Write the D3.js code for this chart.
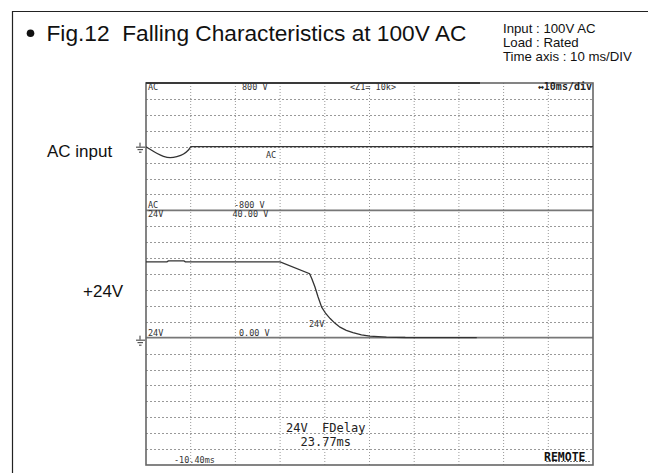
<!DOCTYPE html>
<html><head><meta charset="utf-8">
<script src="https://cdn.jsdelivr.net/npm/d3@7"></script>
<style>body{margin:0;background:#fff}svg{display:block}</style>
</head><body><svg id="c" width="648" height="473"></svg>
<script>
// ---- data ----
const timeDomain = [0, 100];            // ms across 10 divisions (10 ms/DIV)
const acRange = [-800, 800];            // V, AC channel
const v24Range = [0, 40];               // V, 24V channel
const acTime  = [0, 0.9, 2.4, 3.9, 5.4, 6.9, 8.4, 9.5, 10.1, 100];
const acVolts = [0, -33, -83, -121, -137, -125, -92, -42, 0, 0];
const v24Time  = [0, 4.7, 5.0, 8.5, 8.8, 30, 36.6, 37.1, 37.8, 38.5, 39.3, 40.2, 41.2, 42.3, 43.4, 44.8, 46.3, 48.2, 50.1, 53.8, 58, 74];
const v24Volts = [23.8, 23.8, 24.1, 24.1, 23.8, 23.8, 20.1, 18.5, 15.9, 12.8, 9.6, 7.6, 6.0, 4.5, 3.3, 2.3, 1.6, 0.9, 0.5, 0.2, 0.05, 0];
const titleText = "Fig.12  Falling Characteristics at 100V AC";
const infoLines = ["Input : 100V AC", "Load : Rated", "Time axis : 10 ms/DIV"];
const channelLabels = ["AC input", "+24V"];

// ---- layout ----
const svg = d3.select("#c");
const L = 146, R = 593, T = 83, B = 465;
const divH = (B - T) / 24;
const chTop = [T, T + 8 * divH, T + 16 * divH];
const x = d3.scaleLinear().domain(timeDomain).range([L, R]);
const yAC = d3.scaleLinear().domain(acRange).range([chTop[1], chTop[0]]);
const y24 = d3.scaleLinear().domain(v24Range).range([chTop[2], chTop[1]]);
const sans = "Liberation Sans, Arial, sans-serif";

// outer frame
svg.append("path").attr("d", `M12.5,473 V11.5 H648`).attr("fill", "none").attr("stroke", "#222").attr("stroke-width", 1.2);

// title
svg.append("circle").attr("cx", 30.5).attr("cy", 33.3).attr("r", 3.8).attr("fill", "#111");
svg.append("text").attr("x", 46.5).attr("y", 40.5).attr("xml:space", "preserve")
  .style("font-family", sans).style("font-size", "22.7px").attr("fill", "#111")
  .text(titleText);
const info = svg.append("g").attr("transform", "translate(503,0) scale(1.05,1)");
info.selectAll("text.info").data(infoLines).join("text").attr("class", "info")
  .attr("x", 0).attr("y", (d, i) => 33 + i * 14)
  .style("font-family", sans).style("font-size", "12.6px").attr("fill", "#111")
  .text(d => d);

// left channel labels
svg.append("text").attr("x", 47).attr("y", 157).text(channelLabels[0])
  .style("font-family", sans).style("font-size", "17px").attr("fill", "#111");
svg.append("text").attr("x", 83).attr("y", 297).text(channelLabels[1])
  .style("font-family", sans).style("font-size", "17px").attr("fill", "#111");

// grid
const g = svg.append("g");
const xTicks = d3.range(1, 10).map(i => timeDomain[0] + i * 10);
g.selectAll("line.vg").data(xTicks).join("line")
  .attr("x1", d => x(d)).attr("x2", d => x(d)).attr("y1", T).attr("y2", B)
  .attr("stroke", "#999").attr("stroke-width", 1).attr("stroke-dasharray", "1,2");
const hLines = d3.range(1, 24).filter(i => i % 8 !== 0);
g.selectAll("line.hg").data(hLines).join("line")
  .attr("x1", L).attr("x2", R).attr("y1", i => Math.round(T + i * divH) + 0.5).attr("y2", i => Math.round(T + i * divH) + 0.5)
  .attr("stroke", "#999").attr("stroke-width", 1).attr("stroke-dasharray", "2,2");
// channel dividers
g.selectAll("line.cd").data([chTop[1], chTop[2]]).join("line")
  .attr("x1", L).attr("x2", R).attr("y1", d => d).attr("y2", d => d)
  .attr("stroke", "#777").attr("stroke-width", 1.6);
// border
svg.append("rect").attr("x", L).attr("y", T).attr("width", R - L).attr("height", B - T)
  .attr("fill", "none").attr("stroke", "#666").attr("stroke-width", 1.6);
svg.append("line").attr("x1", L).attr("x2", 480).attr("y1", T).attr("y2", T).attr("stroke", "#222").attr("stroke-width", 1.6);

// traces
const acLine = d3.line().x((d, i) => x(acTime[i])).y(d => yAC(d)).curve(d3.curveMonotoneX);
svg.append("path").attr("d", acLine(acVolts)).attr("fill", "none").attr("stroke", "#333").attr("stroke-width", 1.3);
const v24Line = d3.line().x((d, i) => x(v24Time[i])).y(d => y24(d));
svg.append("path").attr("d", v24Line(v24Volts)).attr("fill", "none").attr("stroke", "#333").attr("stroke-width", 1.3);

// ground symbols
function ground(yy) {
  const s = svg.append("g").attr("stroke", "#333").attr("stroke-width", 1);
  s.append("line").attr("x1", 140).attr("x2", 140).attr("y1", yy - 4).attr("y2", yy);
  s.append("line").attr("x1", 136).attr("x2", 145).attr("y1", yy + 0.5).attr("y2", yy + 0.5);
  s.append("line").attr("x1", 137.5).attr("x2", 143).attr("y1", yy + 3).attr("y2", yy + 3);
  s.append("line").attr("x1", 139).attr("x2", 141.5).attr("y1", yy + 5.5).attr("y2", yy + 5.5);
}
ground(yAC(0));
ground(y24(0) + 2);

// scope annotations
const mono = "DejaVu Sans Mono, Liberation Mono, monospace";
const ann = [
  ["AC", 148, 90, 8.5], ["800 V", 242, 90, 8.5], ["<Z1= 10k>", 350, 90, 8.5],
  ["AC", 266, 158, 8.5], ["AC", 148, 208, 8.5], ["-800 V", 234, 208, 8.5],
  ["24V", 148, 217, 8.5], ["40.00 V", 232.5, 217, 8.5],
  ["24V", 148, 336, 8.5], ["0.00 V", 239, 336, 8.5], ["24V", 309, 327, 8.5],
  ["-10.40ms", 174, 463, 8.5]
];
svg.selectAll("text.ann").data(ann).join("text").attr("class", "ann")
  .attr("x", d => d[1]).attr("y", d => d[2]).text(d => d[0])
  .style("font-family", mono).style("font-size", d => d[3] + "px").attr("fill", "#333");
svg.append("text").attr("x", 592).attr("y", 90).attr("text-anchor", "end").text("↔10ms/div")
  .style("font-family", mono).style("font-size", "10px").style("font-weight", "bold").attr("fill", "#222");
svg.append("text").attr("x", 286).attr("y", 432).attr("xml:space", "preserve").text("24V  FDelay")
  .style("font-family", mono).style("font-size", "12px").attr("fill", "#222");
svg.append("text").attr("x", 300.5).attr("y", 446).text("23.77ms")
  .style("font-family", mono).style("font-size", "12px").attr("fill", "#222");
svg.append("text").attr("x", 544).attr("y", 461).text("REMOTE")
  .style("font-family", mono).style("font-size", "11.5px").style("font-weight", "bold").attr("fill", "#111");
svg.append("line").attr("x1", 546).attr("x2", 590).attr("y1", 461.5).attr("y2", 461.5).attr("stroke", "#777").attr("stroke-width", 1).attr("stroke-dasharray", "2,1");
</script></body></html>
